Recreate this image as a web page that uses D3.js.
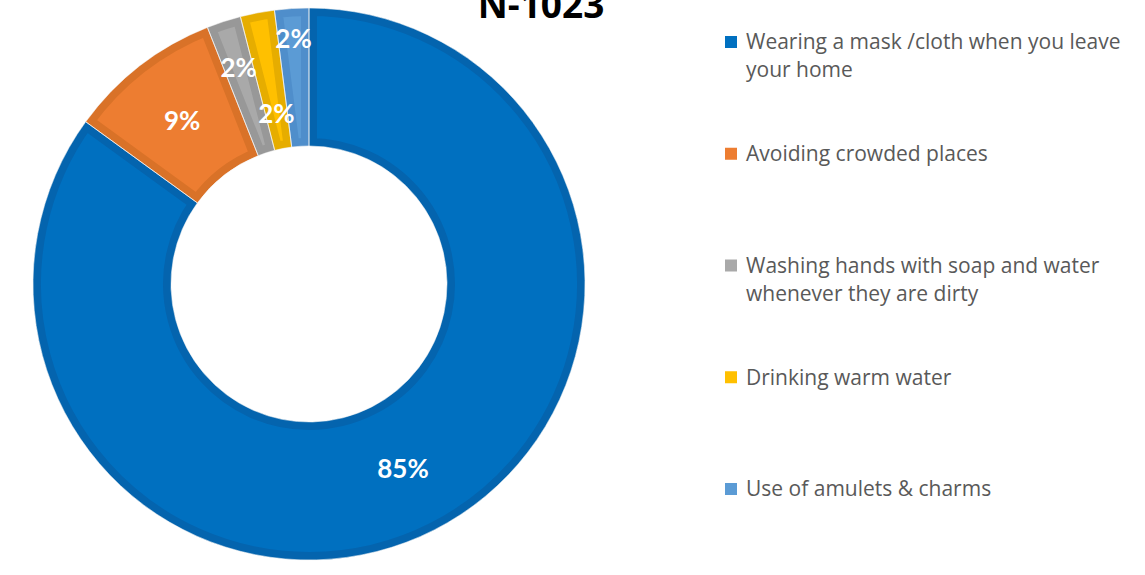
<!DOCTYPE html>
<html>
<head>
<meta charset="utf-8">
<script src="https://cdn.jsdelivr.net/npm/d3@7"></script>
<style>
  html, body { margin: 0; padding: 0; background: #fff; }
  svg { display: block; }
</style>
</head>
<body>
<svg id="chart" width="1145" height="575"></svg>
<script>
// Preventive practices reported (N-1023)
const categories = [
  "Wearing a mask /cloth when you leave your home",
  "Avoiding crowded places",
  "Washing hands with soap and water whenever they are dirty",
  "Drinking warm water",
  "Use of amulets & charms"
];
const legendLines = [
  ["Wearing a mask /cloth when you leave", "your home"],
  ["Avoiding crowded places"],
  ["Washing hands with soap and water", "whenever they are dirty"],
  ["Drinking warm water"],
  ["Use of amulets & charms"]
];
const values = [85, 9, 2, 2, 2];
const valueLabels = ["85%", "9%", "2%", "2%", "2%"];
const titleText = "N-1023";

const fills   = ["#0070C0", "#ED7D31", "#A9A9A9", "#FFC000", "#5B9BD5"];
const borders = ["#0464AE", "#D97228", "#989898", "#E6AD00", "#4F8ECB"];
// radial nudges that keep the small-slice labels apart
const labelRadiusFactor = [1, 1, 1.1, 0.84, 1.19];

const svg = d3.select("#chart");
const cx = 309, cy = 284, outerR = 276, innerR = 138, band = 8;

const pie = d3.pie().sort(null).value(d => d)(values);
const arc = d3.arc().innerRadius(innerR).outerRadius(outerR);

const defs = svg.append("defs");
const g = svg.append("g").attr("transform", `translate(${cx},${cy})`);

// each slice: base fill with a darker inset band along its edges
pie.forEach((p, i) => {
  const id = "slice-clip-" + i;
  defs.append("clipPath").attr("id", id)
    .append("path").attr("d", arc(p));
  g.append("path")
    .attr("d", arc(p))
    .attr("fill", fills[i])
    .attr("stroke", borders[i])
    .attr("stroke-width", band * 2)
    .attr("clip-path", `url(#${id})`);
});
// thin light separators between slices
pie.forEach(p => {
  g.append("path")
    .attr("d", arc(p))
    .attr("fill", "none")
    .attr("stroke", "#f4f4f4")
    .attr("stroke-width", 0.8)
    .attr("stroke-opacity", 0.8);
});

// data labels
const midR = (innerR + outerR) / 2;
pie.forEach((p, i) => {
  const a = (p.startAngle + p.endAngle) / 2;
  const r = midR * labelRadiusFactor[i];
  g.append("text")
    .attr("x", r * Math.sin(a))
    .attr("y", -r * Math.cos(a))
    .attr("text-anchor", "middle")
    .attr("dominant-baseline", "central")
    .attr("font-family", "Lato, 'Open Sans', sans-serif")
    .attr("font-weight", "bold")
    .attr("font-size", 26)
    .attr("fill", "#ffffff")
    .text(valueLabels[i]);
});

// title
svg.append("text")
  .attr("x", 541).attr("y", 18)
  .attr("text-anchor", "middle")
  .attr("font-family", "'Open Sans', Lato, sans-serif")
  .attr("font-weight", "bold")
  .attr("font-size", 37)
  .attr("fill", "#000")
  .text(titleText);

// legend
const legend = svg.append("g").attr("transform", "translate(725,0)");
const legendY = d3.scalePoint().domain(d3.range(categories.length)).range([42, 489]);
categories.forEach((c, i) => {
  const y = legendY(i);
  legend.append("rect")
    .attr("x", 0).attr("y", y - 6)
    .attr("width", 12).attr("height", 12)
    .attr("fill", fills[i]);
  const t = legend.append("text")
    .attr("x", 21).attr("y", y)
    .attr("font-family", "'Open Sans', Lato, sans-serif")
    .attr("font-size", 21)
    .attr("fill", "#595959");
  legendLines[i].forEach((line, k) => {
    t.append("tspan")
      .attr("x", 21)
      .attr("y", y + k * 28)
      .attr("dy", "0.35em")
      .text(line);
  });
});
</script>
</body>
</html>
